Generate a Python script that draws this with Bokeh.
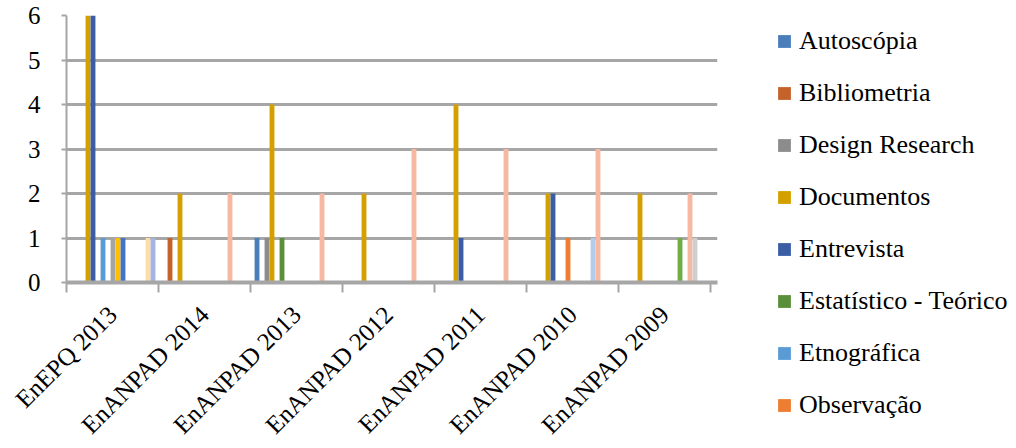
import math
import numpy as np
from bokeh.plotting import figure
from bokeh.models import Range1d, FixedTicker, LinearAxis, Legend, LegendItem
from bokeh.embed import file_html
from bokeh.resources import INLINE

# ---- data -------------------------------------------------------------
categories = ["EnEPQ 2013", "EnANPAD 2014", "EnANPAD 2013", "EnANPAD 2012",
              "EnANPAD 2011", "EnANPAD 2010", "EnANPAD 2009"]

series_names = ["Autoscópia", "Bibliometria", "Design Research", "Documentos",
                "Entrevista", "Estatístico - Teórico", "Etnográfica", "Observação",
                "Série 9", "Série 10", "Série 11", "Série 12", "Série 13",
                "Série 14", "Série 15", "Série 16", "Série 17"]

autoscopia   = [0, 0, 1, 0, 0, 0, 0]
bibliometria = [0, 1, 0, 0, 0, 0, 0]
design_res   = [0, 0, 1, 0, 0, 0, 0]
documentos   = [6, 2, 4, 2, 4, 2, 2]
entrevista   = [6, 0, 0, 0, 1, 2, 0]
estatistico  = [0, 0, 1, 0, 0, 0, 0]
etnografica  = [1, 0, 0, 0, 0, 0, 0]
observacao   = [0, 0, 0, 0, 0, 1, 0]
serie_9      = [1, 0, 0, 0, 0, 0, 0]
serie_10     = [1, 0, 0, 0, 0, 0, 0]
serie_11     = [1, 0, 0, 0, 0, 0, 0]
serie_12     = [0, 0, 0, 0, 0, 0, 1]
serie_13     = [0, 0, 0, 0, 0, 1, 0]
serie_14     = [0, 2, 2, 3, 3, 3, 2]
serie_15     = [0, 0, 0, 0, 0, 0, 1]
serie_16     = [1, 0, 0, 0, 0, 0, 0]
serie_17     = [1, 0, 0, 0, 0, 0, 0]

series_values = [autoscopia, bibliometria, design_res, documentos, entrevista,
                 estatistico, etnografica, observacao, serie_9, serie_10,
                 serie_11, serie_12, serie_13, serie_14, serie_15, serie_16,
                 serie_17]

y_ticks = [0, 1, 2, 3, 4, 5, 6]
legend_count = 8

# ---- styles -------------------------------------------------------------
colors = ["#4a7ebb", "#c4622a", "#8c8c8c", "#d4a000", "#3a5da5", "#5a8f3a",
          "#5b9bd5", "#ed7d31", "#a5a5a5", "#ffc000", "#4472c4", "#70ad47",
          "#b4cbea", "#f7b8a2", "#cfcfcf", "#fddca6", "#a3b5e0"]
FONT = "Liberation Serif"
GRID = "#a6a6a6"

slot = 5.0 / 92.0          # bar slot width in category units
lead = 4.0 / 92.0          # gap before first bar
x_idx = np.arange(len(categories))

p = figure(frame_width=651, frame_height=267, output_backend="svg",
           toolbar_location=None,
           x_range=Range1d(0, len(categories) + 7.0 / 92.0),
           y_range=Range1d(y_ticks[0], y_ticks[-1]),
           x_axis_location=None, y_axis_location=None,
           min_border_left=66, min_border_top=15, min_border_bottom=166,
           min_border_right=299)
p.outline_line_color = None
p.background_fill_color = "white"
p.border_fill_color = "white"

renderers = []
for j, vals in enumerate(series_values):
    r = p.vbar(x=x_idx + lead + slot * (j + 0.5), top=vals, bottom=0,
               width=slot * 0.97, fill_color=colors[j], line_color=None)
    renderers.append(r)

# y axis
yax = LinearAxis(ticker=FixedTicker(ticks=y_ticks))
yax.axis_line_color = GRID
yax.axis_line_width = 2
yax.major_tick_line_color = GRID
yax.major_tick_line_width = 2
yax.major_tick_out = 5
yax.major_tick_in = 0
yax.minor_tick_line_color = None
yax.major_label_standoff = 21
yax.major_label_text_font = FONT
yax.major_label_text_font_size = "25px"
yax.major_label_text_color = "black"
p.add_layout(yax, "left")

# x axis: labels at category centres, minor ticks at category boundaries
xl = LinearAxis(ticker=FixedTicker(ticks=[i + 0.5 for i in range(len(categories))],
                                   minor_ticks=list(range(len(categories) + 1))))
xl.major_label_overrides = {i + 0.5: c for i, c in enumerate(categories)}
xl.axis_line_color = GRID
xl.axis_line_width = 4
xl.major_tick_line_color = None
xl.minor_tick_line_color = GRID
xl.minor_tick_line_width = 2
xl.minor_tick_out = 10
xl.minor_tick_in = 0
xl.major_label_orientation = math.pi / 4
xl.major_label_standoff = 18
xl.major_label_text_font = FONT
xl.major_label_text_font_size = "25px"
xl.major_label_text_color = "black"
p.add_layout(xl, "below")

p.xgrid.visible = False
p.ygrid.ticker = FixedTicker(ticks=y_ticks)
p.ygrid.grid_line_color = GRID
p.ygrid.grid_line_width = 3

legend = Legend(items=[LegendItem(label=series_names[k], renderers=[renderers[k]])
                       for k in range(legend_count)],
                location=(59, -138), orientation="vertical",
                glyph_width=16, glyph_height=16, label_standoff=7,
                label_text_font=FONT, label_text_font_size="26px",
                label_text_color="black", spacing=22, padding=0, margin=0,
                border_line_color=None, background_fill_alpha=0)
p.add_layout(legend, "right")

open("out.html", "w").write(file_html(p, INLINE))
